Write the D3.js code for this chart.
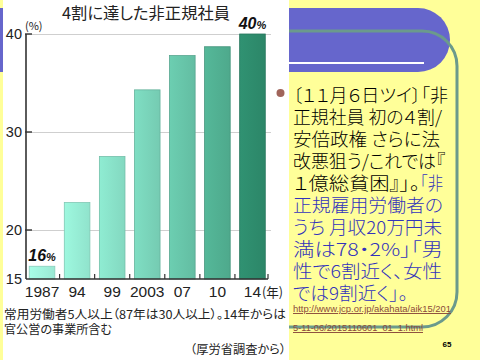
<!DOCTYPE html>
<html><head><meta charset="utf-8">
<script src="https://cdn.jsdelivr.net/npm/d3@7"></script>
<style>
html,body{margin:0;padding:0;background:#FFFF99;}
svg{display:block;}
text{font-feature-settings:"palt";}
</style></head>
<body>
<script>
// ---- data ----
const years = ["1987","94","99","2003","07","10","14"];
const values = [16.3, 22.8, 27.5, 34.3, 37.8, 38.7, 40.0];
const yTicks = [15, 20, 30, 40];
const gridValues = [20, 30, 40];
const barLabels = [{i:0, num:"16", pct:"%"}, {i:6, num:"40", pct:"%"}];
const titleText = "4割に達した非正規社員";
const noteLines = ["常用労働者5人以上（87年は30人以上）。14年からは", "官公営の事業所含む"];
const sourceText = "（厚労省調査から）";
const bodyLines = [
  [{t:"〔１１月６日ツイ〕「非", c:"k"}],
  [{t:"正規社員 初の４割/", c:"k"}],
  [{t:"安倍政権 さらに法", c:"k"}],
  [{t:"改悪狙う/これでは『", c:"k"}],
  [{t:"１億総貧困』」。", c:"k"}, {t:"「非", c:"b"}],
  [{t:"正規雇用労働者の", c:"b"}],
  [{t:"うち 月収20万円未", c:"b"}],
  [{t:"満は78・2%」「男", c:"b"}],
  [{t:"性で6割近く、女性", c:"b"}],
  [{t:"では9割近く」。", c:"b"}]
];
const urlLines = ["http://www.jcp.or.jp/akahata/aik15/201", "5-11-06/2015110601_01_1.html"];
const pageNo = "65";

// ---- styles ----
const barColors = ["#A2F5DF","#98EFD7","#8AE4CB","#7BD6BC","#68C7AB","#52B294","#2E8D6E"];
const jp = "'Noto Sans CJK JP', 'Noto Sans', sans-serif";
const lat = "'Liberation Sans', Arial, sans-serif";
const colK = "#000000", colB = "#3333BB";

const svg = d3.select("body").append("svg").attr("width",480).attr("height",360);
const defs = svg.append("defs");

// slide background
svg.append("rect").attr("width",480).attr("height",360).attr("fill","#FFFF99");
// header band
svg.append("path").attr("d","M0,8 H418 A32,32 0 0 1 450,40 A32,32 0 0 1 418,72 H0 Z").attr("fill","#6666CC");
svg.append("line").attr("x1",288).attr("x2",424).attr("y1",63).attr("y2",63).attr("stroke","#FFFFFF").attr("stroke-width",2);
// rounded frame
svg.append("rect").attr("x",230).attr("y",31).attr("width",227).attr("height",296).attr("rx",35)
  .attr("fill","none").attr("stroke","#6B9A8C").attr("stroke-width",3);

// chart image area
svg.append("rect").attr("x",3).attr("y",0).attr("width",286).attr("height",360).attr("fill","#FFFFFF");

const x = d3.scaleBand().domain(years).range([24.5,270]).paddingInner(0.27).paddingOuter(0.135);
const y = d3.scaleLinear().domain([15,40]).range([279,34]);

const g = svg.append("g");

// title
g.append("text").attr("x",146).attr("y",19).attr("text-anchor","middle")
  .attr("font-family",jp).attr("font-size",16).attr("fill","#222")
  .attr("textLength",168).attr("lengthAdjust","spacingAndGlyphs").text(titleText);

// gridlines
g.selectAll(".grid").data(gridValues).join("line")
  .attr("x1",26).attr("x2",271).attr("y1",d=>y(d)+0.5).attr("y2",d=>y(d)+0.5)
  .attr("stroke","#CFCFCF").attr("stroke-width",1.2);

// bar gradients
years.forEach((yr,i)=>{
  const c = d3.color(barColors[i]);
  const lg = defs.append("linearGradient").attr("id","bg"+i).attr("x1","0").attr("x2","1").attr("y1","0").attr("y2","0");
  lg.append("stop").attr("offset","0").attr("stop-color",c.brighter(0.1));
  lg.append("stop").attr("offset","1").attr("stop-color",c.darker(0.15));
});

// bars
g.selectAll(".bar").data(values).join("rect")
  .attr("x",(d,i)=>x(years[i]))
  .attr("y",d=>y(d))
  .attr("width",x.bandwidth())
  .attr("height",d=>y(15)-y(d))
  .attr("fill",(d,i)=>"url(#bg"+i+")")
  .attr("stroke",(d,i)=>d3.color(barColors[i]).darker(0.5))
  .attr("stroke-width",0.8);

// y axis
g.append("line").attr("x1",26).attr("x2",26).attr("y1",y(40)).attr("y2",y(15)).attr("stroke","#333").attr("stroke-width",1.6);
g.selectAll(".ytick").data(yTicks.filter(d=>d!==15)).join("line")
  .attr("x1",25).attr("x2",32).attr("y1",d=>y(d)).attr("y2",d=>y(d)).attr("stroke","#333").attr("stroke-width",1.4);
g.selectAll(".ylab").data(yTicks).join("text")
  .attr("x",22).attr("y",d=>y(d)+5).attr("text-anchor","end")
  .attr("font-family",lat).attr("font-size",14.5).attr("fill","#222")
  .text(d=>d);
g.append("text").attr("x",25).attr("y",30).attr("font-family",jp).attr("font-size",11).attr("fill","#222").text("(%)");

// x axis
g.append("line").attr("x1",26).attr("x2",268).attr("y1",y(15)).attr("y2",y(15)).attr("stroke","#333").attr("stroke-width",1.6);
const step = x.step();
g.selectAll(".xtick").data(years).join("line")
  .attr("x1",d=>Math.min(268,x(d)+x.bandwidth()+(step-x.bandwidth())/2))
  .attr("x2",d=>Math.min(268,x(d)+x.bandwidth()+(step-x.bandwidth())/2))
  .attr("y1",y(15)).attr("y2",y(15)-5).attr("stroke","#333").attr("stroke-width",1.2);
g.selectAll(".xlab").data(years).join("text")
  .attr("x",d=>x(d)+x.bandwidth()/2).attr("y",297).attr("text-anchor","middle")
  .attr("font-family",lat).attr("font-size",15.5).attr("fill","#222")
  .text(d=>d);
g.append("text").attr("x",x("14")+x.bandwidth()/2+9.5).attr("y",296.5)
  .attr("font-family",jp).attr("font-size",13).attr("fill","#222")
  .attr("textLength",21).attr("lengthAdjust","spacingAndGlyphs").text("(年)");

// bar value labels
barLabels.forEach(b=>{
  const cx = x(years[b.i]);
  const t = g.append("text").attr("x",cx-1).attr("y",y(values[b.i])-5)
    .attr("font-family",lat).attr("font-weight","bold").attr("font-style","italic").attr("fill","#111");
  t.append("tspan").attr("font-size",16).text(b.num);
  t.append("tspan").attr("font-size",11).text(b.pct);
});

// notes
g.selectAll(".note").data(noteLines).join("text")
  .attr("x",4).attr("y",(d,i)=>319+i*15)
  .attr("font-family",jp).attr("font-size",12).attr("fill","#222")
  .attr("textLength",(d,i)=>i===0?282:108).attr("lengthAdjust","spacingAndGlyphs")
  .text(d=>d);
g.append("text").attr("x",190).attr("y",354).attr("font-family",jp).attr("font-size",12).attr("fill","#222")
  .attr("textLength",96).attr("lengthAdjust","spacingAndGlyphs").text(sourceText);

// bullet
svg.append("circle").attr("cx",280.5).attr("cy",93).attr("r",4).attr("fill","#A0645A");

// body text
const fs = 18;
const lineEnds = [448,442,440,445,443,443,442,443,442,408];
bodyLines.forEach((segs,i)=>{
  const cy = 93.5 + i*22;
  if (segs.length===1) {
    svg.append("text").attr("x",293).attr("y",cy).attr("dominant-baseline","central")
      .attr("font-family",jp).attr("font-weight",300).attr("font-size",fs).attr("fill",segs[0].c==="k"?colK:colB)
      .attr("textLength",lineEnds[i]-293).attr("lengthAdjust","spacingAndGlyphs").text(segs[0].t);
  } else {
    svg.append("text").attr("x",293).attr("y",cy).attr("dominant-baseline","central")
      .attr("font-family",jp).attr("font-weight",300).attr("font-size",fs).attr("fill",colK)
      .attr("textLength",420-293).attr("lengthAdjust","spacingAndGlyphs").text(segs[0].t);
    svg.append("text").attr("x",420).attr("y",cy).attr("dominant-baseline","central")
      .attr("font-family",jp).attr("font-weight",300).attr("font-size",fs).attr("fill",colB)
      .attr("textLength",lineEnds[i]-420).attr("lengthAdjust","spacingAndGlyphs").text(segs[1].t);
  }
});

// url
const urlEnds = [451,423];
urlLines.forEach((u,i)=>{
  svg.append("text").attr("x",293).attr("y",312+i*19)
    .attr("font-family",lat).attr("font-size",9.5).attr("fill","#8C4A3A")
    .attr("text-decoration","underline")
    .attr("textLength",urlEnds[i]-293).attr("lengthAdjust","spacingAndGlyphs").text(u);
});

// page number
svg.append("text").attr("x",447).attr("y",347).attr("text-anchor","middle")
  .attr("font-family",lat).attr("font-size",8).attr("font-weight","bold").attr("fill","#000").text(pageNo);
</script>
</body></html>
